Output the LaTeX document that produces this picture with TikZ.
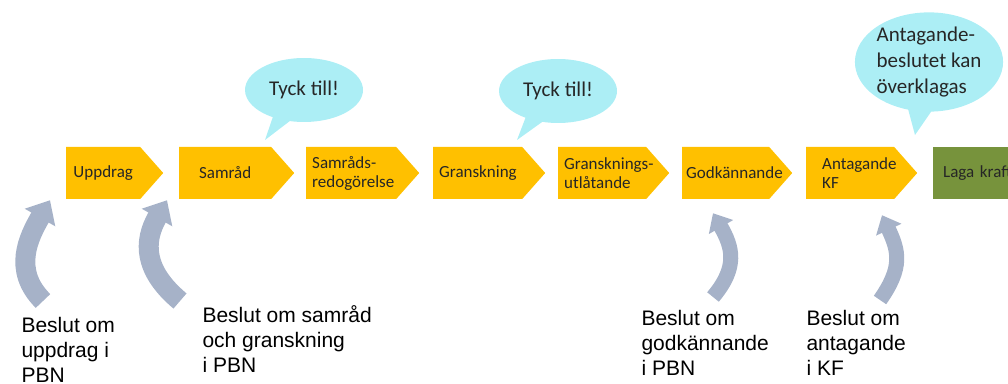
\documentclass[tikz,border=0pt]{standalone}
\usepackage{fontspec}
\setmainfont{Liberation Sans}
\newfontfamily\boxfont{Carlito}
\usepackage{tikz}
\usetikzlibrary{shapes.symbols, shapes.callouts, arrows.meta, positioning}
\definecolor{gold}{RGB}{255,192,0}
\definecolor{lagagreen}{RGB}{119,147,60}
\definecolor{bubblecol}{RGB}{172,238,245}
\definecolor{slate}{RGB}{166,178,200}
\tikzstyle{bigarrow} = [line width=20pt, slate, -{Triangle[length=20pt, width=34pt]}]
\tikzstyle{smallarrow} = [line width=15pt, slate, -{Triangle[length=16pt, width=27pt]}]

\begin{document}
\begin{tikzpicture}[x=1pt, y=1pt,
    phase/.style={signal, signal to=east, signal pointer angle=97, fill=gold, minimum height=52pt, inner ysep=0pt, inner xsep=6pt, anchor=west, align=left, text=black!85, font=\boxfont\fontsize{17}{19}\selectfont},
    bubble/.style={ellipse callout, fill=bubblecol, inner sep=0pt, callout pointer arc=18, text=black!85, font=\boxfont\fontsize{21}{26}\selectfont},
    decision/.style={anchor=base west, align=left, font=\fontsize{21}{25}\selectfont},
]
\useasboundingbox (0,0) rectangle (1008,383);

% Phases
\node[phase, text width=62pt, align=center] (upp) at (66,210) {Uppdrag};
\node[phase, text width=80pt, align=center] (samr) at (179,210) {Samråd};
\node[phase, text width=78pt] (red) at (306,210) {\mbox{Samråds-}\\\mbox{redogörelse}};
\node[phase, text width=77pt] (gran) at (433,210) {\mbox{Granskning}};
\node[phase, text width=76pt] (utl) at (558,210) {\mbox{Gransknings-}\\\mbox{utlåtande}};
\node[phase, text width=79pt, inner xsep=4pt] (godk) at (682,210) {\mbox{Godkännande}};
\node[phase, text width=56pt, inner xsep=16pt] (anta) at (806,210) {\mbox{Antagande}\\KF};
\node[fill=lagagreen, minimum height=52pt, inner ysep=0pt, inner xsep=10pt, text width=80pt, anchor=west, align=left, text=black!85, font=\boxfont\fontsize{17}{19}\selectfont] (laga) at (933,210) {Laga kraft};

% Speech bubbles
\node[bubble, minimum width=118pt, minimum height=64pt, callout absolute pointer={(265,243)}] (tyck1) at (304,293) {Tyck till!};
\node[bubble, minimum width=118pt, minimum height=64pt, callout absolute pointer={(517,243)}] (tyck2) at (558,292) {Tyck till!};
\node[bubble, align=left, callout absolute pointer={(915,248)}] (overkl) at (929,321) {Antagande-\\beslutet kan\\överklagas};

% Decisions
\node[decision] (dec1) at (18,1) {Beslut om\\uppdrag i\\PBN};
\node[decision] (dec2) at (199,11) {Beslut om samråd\\och granskning\\i PBN};
\node[decision] (dec3) at (638,8) {Beslut om\\godkännande\\i PBN};
\node[decision] (dec4) at (803,8) {Beslut om\\antagande\\i KF};

% Decision arrows
\coordinate (s1) at (43,82);
\coordinate (s2) at (180,82);
\coordinate (s3) at (713,86);
\coordinate (s4) at (880,83);
\draw[bigarrow] (s1) to[out=135, in=240, looseness=1.1] ([shift={(-16,-1)}]upp.south west);
\draw[bigarrow] (s2) to[out=140, in=240, looseness=1.2] ([shift={(-12,-1)}]samr.south west);
\draw[smallarrow] (s3) to[out=50, in=300, looseness=1.2] ([shift={(31,-14)}]godk.south west);
\draw[smallarrow] (s4) to[out=55, in=295, looseness=1.2] ([shift={(76,-16)}]anta.south west);

\end{tikzpicture}
\end{document}
